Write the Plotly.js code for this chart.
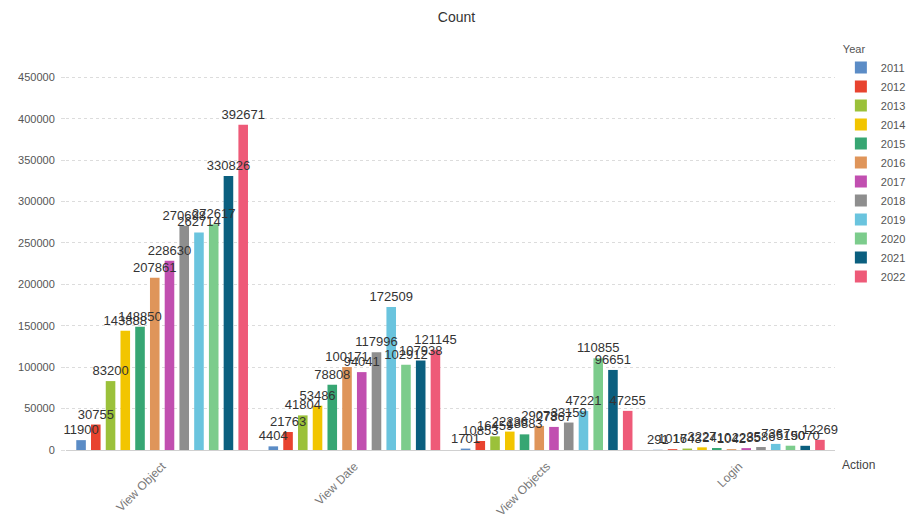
<!DOCTYPE html>
<html>
<head>
<meta charset="utf-8">
<script src="https://cdn.plot.ly/plotly-3.0.1.min.js"></script>
<style>html,body{margin:0;padding:0;background:#fff;}#chart{width:913px;height:516px;}</style>
</head>
<body>
<div id="chart"></div>
<script>
const actions = ["View Object", "View Date", "View Objects", "Login"];
const years = ["2011","2012","2013","2014","2015","2016","2017","2018","2019","2020","2021","2022"];
const colors = ["#5b8cc6","#e8432f","#9bc13a","#f2c500","#37a673","#df955a","#c14fb0","#8e8e8e","#6ac4de","#7ccc8c","#0b5f7f","#ee5a78"];
// values per year: [View Object, View Date, View Objects, Login]
const v2011 = [11900, 4404, 1701, 291];
const v2012 = [30755, 21763, 10853, 1016];
const v2013 = [83200, 41804, 16459, 1743];
const v2014 = [143888, 53486, 22236, 3227];
const v2015 = [148850, 78808, 18883, 2410];
const v2016 = [207861, 100171, 29073, 1042];
const v2017 = [228630, 94041, 27867, 2285];
const v2018 = [270698, 117996, 33159, 3586];
const v2019 = [262714, 172509, 47221, 7367];
const v2020 = [272617, 102912, 110855, 5190];
const v2021 = [330826, 107938, 96651, 5070];
const v2022 = [392671, 121145, 47255, 12269];
const series = [v2011,v2012,v2013,v2014,v2015,v2016,v2017,v2018,v2019,v2020,v2021,v2022];

const barTraces = series.map((vals, i) => ({
  type: "bar",
  name: years[i],
  x: actions,
  y: vals,
  offsetgroup: years[i],
  marker: {color: colors[i], line: {width: 0}},
  hoverinfo: "x+y+name"
}));
// label layer drawn after all bars so numbers sit on top
const labelTraces = series.map((vals, i) => ({
  type: "bar",
  name: years[i] + " label",
  x: actions,
  y: vals,
  offsetgroup: years[i],
  showlegend: false,
  text: vals.map(String),
  textposition: "outside",
  constraintext: "none",
  cliponaxis: false,
  textfont: {family: "Liberation Sans, Arial, sans-serif", size: 13, color: "#333"},
  marker: {color: "rgba(0,0,0,0)", line: {width: 0}},
  hoverinfo: "skip"
}));

const layout = {
  width: 913, height: 516,
  paper_bgcolor: "#fff", plot_bgcolor: "#fff",
  font: {family: "Liberation Sans, Arial, sans-serif", color: "#555"},
  title: {text: "Count", x: 0.5, xanchor: "center", y: 0.967, yanchor: "middle",
          font: {size: 14, color: "#333"}},
  margin: {l: 66, r: 78, t: 69, b: 66},
  barmode: "group",
  bargap: 0.08,
  bargroupgap: 0.35,
  showlegend: true,
  legend: {
    title: {text: "Year", font: {size: 11, color: "#555"}},
    xref: "container", yref: "container",
    x: 0.921, xanchor: "left", y: 0.925, yanchor: "top",
    font: {size: 11, color: "#555"},
    tracegroupgap: 0, itemwidth: 30
  },
  xaxis: {
    type: "category",
    tickangle: -45,
    tickfont: {size: 12, color: "#777"},
    ticklabelstandoff: 6,
    showline: false, zeroline: false, showgrid: false,
    ticks: ""
  },
  yaxis: {
    range: [0, 460000],
    dtick: 50000,
    tickformat: "d",
    tickfont: {size: 11, color: "#555"},
    ticks: "outside", ticklen: 4, tickcolor: "#ddd",
    ticklabelstandoff: 4,
    showgrid: true, gridcolor: "#dcdcdc", griddash: "dot",
    zeroline: true, zerolinecolor: "#d0d0d0", zerolinewidth: 1,
    showline: false
  },
  annotations: [{
    text: "Action", xref: "paper", yref: "paper", x: 1.006, y: -0.015,
    xanchor: "left", yanchor: "top", showarrow: false,
    font: {size: 12, color: "#444"}
  }]
};

Plotly.newPlot("chart", barTraces.concat(labelTraces), layout, {displayModeBar: false, staticPlot: true});
</script>
</body>
</html>
